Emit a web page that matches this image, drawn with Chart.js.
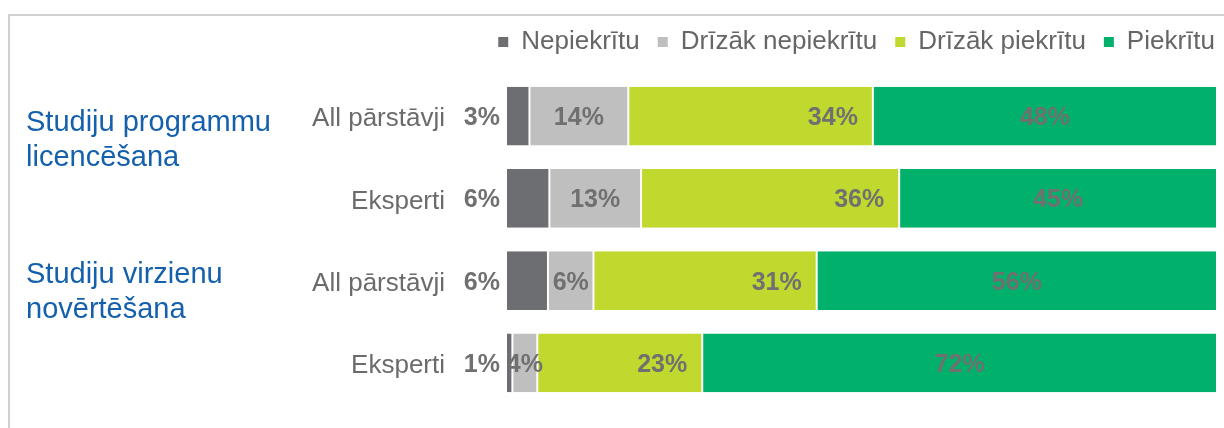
<!DOCTYPE html>
<html>
<head>
<meta charset="utf-8">
<script src="https://cdn.jsdelivr.net/npm/chart.js@4.4.1/dist/chart.umd.min.js"></script>
<style>
  html, body { margin: 0; padding: 0; background: #ffffff; }
  #wrap { position: relative; width: 1224px; height: 428px; }
</style>
</head>
<body>
<div id="wrap"><canvas id="c" width="1224" height="428"></canvas></div>
<script>
// ---- data ----
const categories = ['All pārstāvji', 'Eksperti', 'All pārstāvji', 'Eksperti'];
const groupLabels = [['Studiju programmu', 'licencēšana'], ['Studiju virzienu', 'novērtēšana']];
const seriesNames = ['Nepiekrītu', 'Drīzāk nepiekrītu', 'Drīzāk piekrītu', 'Piekrītu'];
const nepiekritu = [3.3, 6.1, 5.9, 0.9];
const drizakNepiekritu = [13.9, 12.9, 6.4, 3.5];
const drizakPiekritu = [34.4, 36.3, 31.4, 23.2];
const piekritu = [48.4, 44.7, 56.3, 72.4];

const colors = ['#6d6e71', '#bfbfbf', '#c1d82f', '#00b06b'];
const seriesValues = [nepiekritu, drizakNepiekritu, drizakPiekritu, piekritu];

const FONT = "'Liberation Sans', Arial, sans-serif";

const datasets = seriesValues.map((vals, i) => ({
  label: seriesNames[i],
  data: vals,
  backgroundColor: colors[i],
  borderColor: '#ffffff',
  borderWidth: { left: 1, right: 1, top: 0, bottom: 0 },
  borderSkipped: false,
  barPercentage: 0.715,
  categoryPercentage: 1.0
}));

// frame lines (top and left)
const framePlugin = {
  id: 'frame',
  beforeDraw(chart) {
    const ctx = chart.ctx;
    ctx.save();
    ctx.fillStyle = '#d0d0d0';
    ctx.fillRect(8, 14, chart.width - 8, 2);
    ctx.fillRect(8, 14, 2, chart.height - 14);
    ctx.restore();
  }
};

// legend spacing / position
const legendAdjust = {
  id: 'legendAdjust',
  afterInit(chart) {
    const lg = chart.legend;
    if (lg && !lg._patched) {
      const fit = lg.fit;
      lg.fit = function () { fit.call(this); this.height += 10; };
      lg._patched = true;
    }
  },
  afterLayout(chart) {
    const lg = chart.legend;
    if (lg) { lg.right = 1215 + 18; }
  }
};

// value labels
const valueLabels = {
  id: 'valueLabels',
  afterDatasetsDraw(chart) {
    const ctx = chart.ctx;
    ctx.save();
    ctx.font = 'bold 25px ' + FONT;
    ctx.fillStyle = '#707070';
    ctx.textBaseline = 'alphabetic';
    chart.data.datasets.forEach((ds, di) => {
      const meta = chart.getDatasetMeta(di);
      meta.data.forEach((bar, i) => {
        const v = ds.data[i];
        const txt = Math.round(v) + '%';
        const y = bar.y + 9;
        const left = Math.min(bar.base, bar.x), right = Math.max(bar.base, bar.x);
        if (di === 0) {
          ctx.textAlign = 'right';
          ctx.fillText(txt, left - 6, y);
        } else if (di === 2) {
          ctx.textAlign = 'right';
          ctx.fillText(txt, right - 15, y);
        } else {
          ctx.textAlign = 'center';
          ctx.fillText(txt, (left + right) / 2, y);
        }
      });
    });
    ctx.restore();
  }
};

// group labels on the left
const groupPlugin = {
  id: 'groups',
  afterDraw(chart) {
    const ctx = chart.ctx;
    const ys = chart.scales.y;
    ctx.save();
    ctx.font = '29px ' + FONT;
    ctx.fillStyle = '#1560ac';
    ctx.textAlign = 'left';
    ctx.textBaseline = 'alphabetic';
    const anchors = [ys.getPixelForValue(0) + 15, ys.getPixelForValue(2) + 2];
    groupLabels.forEach((lines, g) => {
      lines.forEach((line, k) => {
        ctx.fillText(line, 26, anchors[g] + k * 35);
      });
    });
    ctx.restore();
  }
};

new Chart(document.getElementById('c'), {
  type: 'bar',
  data: { labels: categories, datasets },
  options: {
    indexAxis: 'y',
    responsive: false,
    animation: false,
    events: [],
    layout: { padding: { top: 11, right: 7, bottom: 24, left: 0 } },
    scales: {
      x: {
        stacked: true, min: 0, max: 100, display: false,
        grid: { display: false }
      },
      y: {
        stacked: true,
        grid: { display: false, drawTicks: false },
        border: { display: false },
        ticks: {
          padding: 61,
          labelOffset: 3,
          color: '#6b6b6b',
          font: { family: FONT, size: 26 }
        },
        afterFit(scale) {
          scale.width = 506;
          scale.paddingTop = 0;
          scale.paddingBottom = 0;
        }
      }
    },
    plugins: {
      tooltip: { enabled: false },
      legend: {
        position: 'top',
        align: 'end',
        labels: {
          boxWidth: 10,
          boxHeight: 10,
          padding: 18,
          color: '#666666',
          font: { family: FONT, size: 26 },
          generateLabels(chart) {
            return chart.data.datasets.map((ds, i) => ({
              text: ds.label,
              fillStyle: ds.backgroundColor,
              strokeStyle: ds.backgroundColor,
              lineWidth: 0,
              hidden: false,
              datasetIndex: i,
              fontColor: '#666666'
            }));
          }
        }
      }
    }
  },
  plugins: [framePlugin, legendAdjust, valueLabels, groupPlugin]
});
</script>
</body>
</html>
